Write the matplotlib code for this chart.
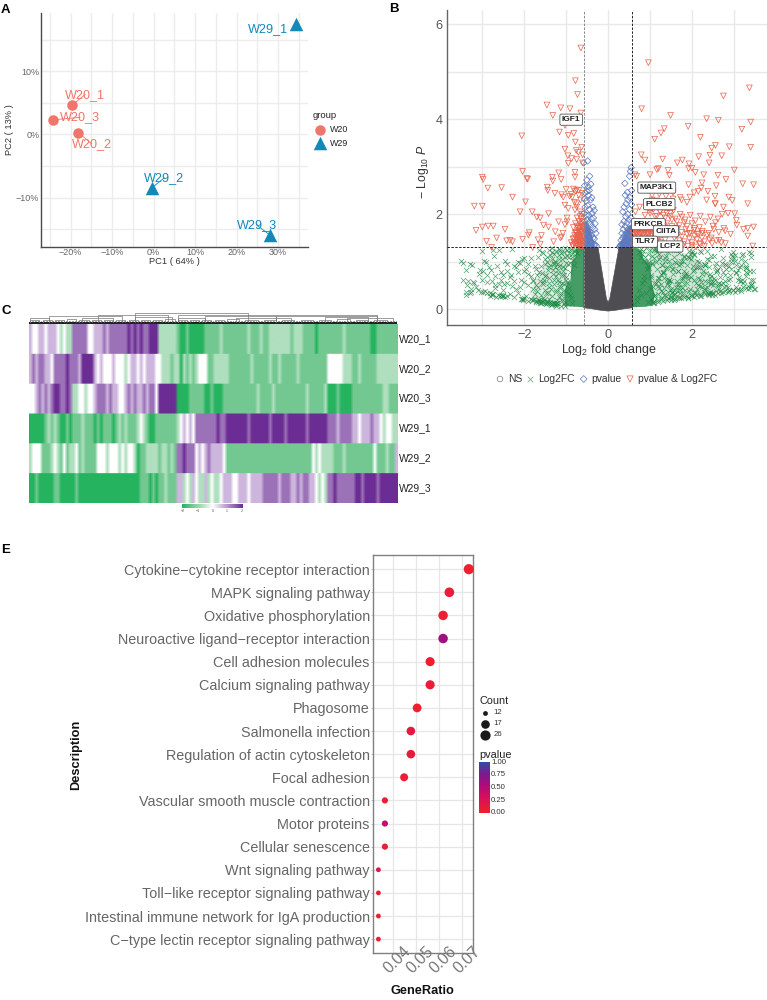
import numpy as np
import matplotlib
matplotlib.use('Agg')
import matplotlib.pyplot as plt
from matplotlib.colors import LinearSegmentedColormap
from matplotlib.patches import Polygon

plt.rcParams['font.family'] = ['Liberation Sans', 'DejaVu Sans']
plt.rcParams['mathtext.fontset'] = 'custom'
plt.rcParams['mathtext.rm'] = 'Liberation Sans'
plt.rcParams['mathtext.it'] = 'Liberation Sans:italic'

W, H = 767, 1000

# --- PCA ---
pca_names = ['W20_1', 'W20_2', 'W20_3', 'W29_1', 'W29_2', 'W29_3']
pca_x = [-19.7, -18.1, -24.3, 34.3, -0.5, 28.0]
pca_y = [4.6, 0.3, 2.3, 17.5, -8.5, -15.9]
pca_label_x = [-16.5, -14.9, -17.7, 27.5, 2.5, 24.8]
pca_label_y = [6.3, -1.5, 2.7, 16.6, -6.9, -14.3]

# --- volcano ---
red_x = [-0.65, 0.96, -0.78, -0.73, 3.37, 2.75, -1.46, -1.13, -0.91, -1.32, -0.65, 0.80, 1.49, 2.35, 2.63, 3.40,
         -1.03, 1.91, 1.34, 1.26, 3.19, 1.11, 2.20, -2.06, -1.16, -0.95, -0.82, -0.78, 2.56, 2.89, 3.40, -1.03,
         -0.76, -0.63, -0.71, 0.79, 0.88, 1.30, 1.77, 1.65, 2.16, 2.43, 2.71, 2.47, 2.41, 1.93, -0.96, -0.87,
         -0.75, -0.95, -0.61, -0.61, 3.01, 1.16, 1.20, 1.43, 1.92, 2.00, 2.08, 2.28, 2.62, 1.00, 0.68, 0.64,
         1.46, 2.81, 2.24, 3.21, 3.47, 2.58, 1.92, -3.00, -2.98, -2.87, -2.54, -2.04, -1.94, -1.92, -1.33, -1.32,
         -1.18, -1.12, -0.79, -0.79, -1.45, -1.44, -1.00, -0.83, -0.75, -1.27, -1.11, -2.28, -1.07,
         -3.19, -3.00, -2.10, -1.97, -1.81, -1.70, -1.62, -1.42, -1.03, -0.95, -0.79, -0.67, -0.75, -3.15, -3.00,
         -2.86, -2.74, -2.90, -2.66, -2.46, -2.42, -2.34, -2.28, -2.04, -1.88, -1.90, -1.54, -1.42, -1.18, -0.98,
         -1.67, -1.59, -1.62, -1.30, -1.26, -1.11, -1.80, -2.78,
         -0.60, -0.62, -0.64, -0.66, -0.68, -0.70, -0.72, -0.74, -0.60, -0.63, -0.66, -0.69, -0.72, -0.75, -0.78,
         -0.81, -0.85, -0.60, -0.62, -0.65, -0.68, -0.71, -0.74, -0.77, -0.80, -0.84, -0.88, -0.60, -0.64, -0.67,
         -0.70, -0.74, -0.78, -0.83, -0.62, -0.66, -0.70, -0.75, -0.80, -0.86, -0.92, -0.98, -1.03, -1.08, -1.14,
         -0.62, -0.70, -0.78, -0.88,
         0.60, 0.63, 0.66, 0.70, 0.74, 0.78, 0.82, 0.86, 0.90, 0.95, 1.00, 1.05, 1.10, 1.15, 1.20, 1.25,
         0.60, 0.64, 0.68, 0.72, 0.76, 0.80, 0.85, 0.90, 0.95, 1.00, 1.06, 1.12, 1.18, 1.24, 1.30, 1.36,
         0.62, 0.68, 0.74, 0.80, 0.86, 0.92, 0.98, 1.04, 1.10, 1.16, 1.22, 1.28, 1.34, 1.40, 1.46, 1.52,
         1.58, 1.64, 1.70, 1.76, 1.82, 1.88, 1.94, 2.00, 2.06, 2.12, 2.18, 2.24, 2.30, 2.36, 2.42, 2.48,
         0.65, 0.75, 0.88, 1.00, 1.12, 1.24, 1.36, 1.48, 1.60, 1.72, 1.84, 1.96, 2.08, 2.20, 2.32, 2.44, 2.56,
         1.55, 1.65, 1.75, 1.85, 1.95, 2.05, 2.15, 2.25, 1.60, 1.70, 1.80, 1.90, 2.00, 2.10, 2.20, 2.30,
         1.25, 1.35, 1.45, 1.55, 1.05, 1.15, 0.95, 0.85, 1.75, 1.95, 2.15, 2.35, 2.55, 2.75,
         3.23, 3.33, 3.47, 3.33, 3.33, 3.02, 3.06, 3.07, 2.86, 3.45, 2.79, 2.96, 2.88, 2.56, 2.72, 2.62,
         2.50, 2.65, 2.80, 2.92, 1.05, 1.22, 1.38, 1.55, 1.72, 1.88, 2.05, 2.22, 2.38, 2.55,
         -0.60, -0.62, -0.64, -0.66, -0.68, -0.70, -0.72, -0.60, -0.63, -0.66, -0.69, -0.72, -0.76, -0.80, -0.84,
         -0.61, -0.65, -0.69, -0.73, -0.77, -0.81, -0.61, -0.65, -0.70, -0.75, -0.60, -0.64, -0.68, -0.72, -0.62,
         0.60, 0.64, 0.68, 0.72, 0.76, 0.80, 0.84, 0.88, 0.92, 0.96, 1.00, 1.04, 1.08, 1.12, 1.16,
         1.40, 1.46, 1.52, 1.58, 1.64, 1.70, 1.76, 1.82, 1.88, 1.94, 2.00, 2.06, 2.12, 2.18, 2.24,
         1.00, 1.08, 1.16, 1.24, 1.32, 1.40, 1.48, 1.56, 2.40, 2.46, 2.52, 2.58, 2.64, 2.70, 2.76]
red_y = [5.50, 5.19, 4.81, 4.52, 4.66, 4.49, 4.30, 4.24, 4.22, 4.08, 4.13, 4.22, 4.08, 4.01, 3.98, 3.94,
         3.87, 3.85, 3.80, 3.71, 3.79, 3.58, 3.62, 3.65, 3.73, 3.66, 3.70, 3.52, 3.45, 3.42, 3.41, 3.37,
         3.34, 3.41, 3.30, 3.25, 3.14, 3.16, 3.14, 3.08, 3.21, 3.24, 3.23, 3.39, 3.08, 3.06, 3.23, 3.17,
         3.15, 3.07, 3.25, 3.08, 2.93, 2.94, 2.96, 2.92, 2.96, 2.97, 2.88, 2.83, 2.82, 2.83, 2.80, 2.83,
         2.82, 2.73, 2.66, 2.64, 2.62, 2.60, 2.62, 2.78, 2.73, 2.55, 2.56, 2.90, 2.75, 2.74, 2.78, 2.70,
         2.87, 2.73, 2.88, 2.78, 2.57, 2.50, 2.52, 2.53, 2.51, 2.44, 2.41, 2.36, 2.36,
         2.17, 2.17, 2.05, 2.26, 2.05, 1.94, 1.92, 2.01, 2.19, 2.12, 2.09, 2.05, 2.22, 1.66, 1.73,
         1.75, 1.75, 1.43, 1.50, 1.68, 1.44, 1.45, 1.42, 1.47, 1.61, 1.56, 1.77, 1.73, 1.84, 1.84,
         1.46, 1.55, 1.37, 1.42, 1.63, 1.52, 1.30, 1.30,
         1.33, 1.38, 1.43, 1.48, 1.34, 1.40, 1.45, 1.36, 1.53, 1.58, 1.63, 1.50, 1.55, 1.47, 1.60,
         1.40, 1.34, 1.68, 1.73, 1.78, 1.70, 1.65, 1.75, 1.62, 1.55, 1.48, 1.40, 1.85, 1.90, 1.95,
         1.85, 1.92, 1.80, 1.72, 2.00, 2.30, 2.40, 2.15, 2.25, 2.35, 2.38, 1.92, 1.78, 1.60, 1.50,
         2.44, 2.50, 2.48, 2.42,
         1.33, 1.38, 1.42, 1.35, 1.40, 1.45, 1.34, 1.38, 1.43, 1.36, 1.41, 1.34, 1.38, 1.44, 1.35, 1.40,
         1.50, 1.56, 1.62, 1.52, 1.58, 1.64, 1.50, 1.55, 1.60, 1.48, 1.53, 1.60, 1.47, 1.52, 1.58, 1.46,
         1.72, 1.78, 1.70, 1.82, 1.74, 1.68, 1.80, 1.72, 1.66, 1.78, 1.70, 1.64, 1.76, 1.68, 1.62, 1.74,
         1.50, 1.56, 1.44, 1.52, 1.42, 1.58, 1.48, 1.40, 1.54, 1.46, 1.38, 1.50, 1.42, 1.56, 1.46, 1.38,
         2.05, 2.15, 1.98, 2.08, 1.95, 2.05, 1.92, 2.02, 1.90, 2.00, 1.88, 1.98, 1.86, 1.96, 1.84, 1.94, 1.82,
         1.64, 1.70, 1.62, 1.68, 1.60, 1.66, 1.58, 1.64, 1.35, 1.33, 1.36, 1.32, 1.34, 1.31, 1.36, 1.33,
         2.20, 2.25, 2.18, 2.32, 2.40, 2.28, 2.50, 2.56, 2.30, 2.36, 2.48, 2.30, 2.22, 2.15,
         1.68, 1.70, 1.73, 1.54, 2.22, 2.01, 1.87, 1.77, 2.02, 1.33, 1.65, 2.29, 2.36, 2.22, 2.00, 1.90,
         1.75, 1.45, 1.38, 1.58, 2.30, 2.42, 2.38, 2.45, 2.35, 2.25, 2.45, 2.55, 2.48, 2.38,
         1.32, 1.35, 1.32, 1.36, 1.33, 1.36, 1.32, 1.42, 1.44, 1.42, 1.46, 1.42, 1.38, 1.36, 1.33,
         1.52, 1.54, 1.52, 1.55, 1.50, 1.48, 1.62, 1.64, 1.62, 1.60, 1.72, 1.74, 1.72, 1.70, 1.82,
         1.60, 1.62, 1.58, 1.62, 1.60, 1.60, 1.58, 1.62, 1.60, 1.58, 1.62, 1.58, 1.60, 1.55, 1.60,
         1.80, 1.66, 1.88, 1.70, 1.84, 1.76, 1.94, 1.82, 1.74, 1.60, 1.80, 1.70, 1.58, 1.72, 1.60,
         2.02, 2.10, 1.96, 2.05, 1.98, 2.02, 1.95, 2.08, 1.60, 1.50, 1.68, 1.44, 1.62, 1.40, 1.70]

blue_x = [-0.49, -0.58, -0.44, -0.51, -0.56, -0.47, -0.41, -0.55, -0.50, -0.45, -0.39, -0.57, -0.52, -0.47, -0.42,
          -0.36, -0.33, -0.55, -0.49, -0.44, -0.38, -0.57, -0.52, -0.46, -0.40, -0.35, -0.31, -0.56, -0.50, -0.45,
          -0.41, -0.37, -0.32, -0.29, -0.56, -0.53, -0.48, -0.44, -0.40, -0.36, -0.33, -0.56, -0.50, -0.46,
          -0.42, -0.38, -0.34, -0.31, -0.28, -0.57, -0.54,
          0.55, 0.53, 0.51, 0.40, 0.56, 0.46, 0.41, 0.52, 0.47, 0.43, 0.38, 0.35, 0.56, 0.51, 0.47, 0.42,
          0.38, 0.33, 0.55, 0.50, 0.45, 0.41, 0.36, 0.33, 0.56, 0.52, 0.47, 0.43, 0.39, 0.35, 0.31, 0.55,
          0.50, 0.46, 0.41, 0.37, 0.33, 0.30, 0.57, 0.53, 0.48, 0.44, 0.40, 0.36, 0.32, 0.29, 0.27]
blue_y = [3.12, 3.08, 2.80, 2.72, 2.60, 2.58, 2.63, 2.45, 2.48, 2.50, 2.35, 2.32, 2.28, 2.40, 2.30,
          2.15, 2.08, 2.15, 2.18, 2.10, 2.02, 2.02, 1.98, 1.98, 1.90, 1.92, 1.80, 1.85, 1.88, 1.83,
          1.78, 1.72, 1.68, 1.60, 1.70, 1.62, 1.65, 1.62, 1.55, 1.50, 1.48, 1.50, 1.45, 1.52,
          1.42, 1.40, 1.36, 1.36, 1.33, 1.35, 1.32,
          2.98, 2.90, 2.80, 2.65, 2.50, 2.46, 2.40, 2.35, 2.30, 2.22, 2.15, 2.05, 2.20, 2.10, 2.00, 1.95,
          1.85, 1.78, 1.92, 1.88, 1.82, 1.75, 1.68, 1.60, 1.72, 1.65, 1.68, 1.60, 1.55, 1.50, 1.45, 1.50,
          1.52, 1.45, 1.42, 1.40, 1.38, 1.35, 1.36, 1.40, 1.34, 1.35, 1.32, 1.33, 1.32, 1.33, 1.31]
# solid core of the pvalue-only group, bottom of the two arms
blue_core_left_x = [-0.58, -0.58, -0.52, -0.44, -0.36, -0.31]
blue_core_left_y = [1.30, 1.80, 1.85, 1.72, 1.50, 1.30]
blue_core_right_x = [0.58, 0.58, 0.52, 0.42, 0.33, 0.27]
blue_core_right_y = [1.30, 1.72, 1.78, 1.66, 1.48, 1.30]

green_x = [-3.50, -3.45, -3.40, -3.30, -3.25, -3.35, -3.20, -3.05, -3.00, -2.95, -3.10, -2.85, -2.80, -2.75, -2.70,
           -2.90, -3.00, -2.60, -2.55, -2.50, -2.45, -2.40, -2.35, -2.30, -2.25, -2.20, -2.15, -2.10, -2.05, -2.00,
           -1.95, -1.90, -1.85, -2.70, -2.60, -2.50, -2.40, -2.30, -2.20, -2.10, -2.00, -1.90, -1.80, -2.55, -2.35,
           -2.15, -1.95, -2.25, -2.05, -1.85, -1.75, -1.70, -1.65, -1.60, -1.55, -1.50, -1.45, -1.40, -1.35, -1.30,
           -1.25, -1.80, -1.72, -1.64, -1.56, -1.48, -1.40, -1.32, -1.24, -1.16, -1.70, -1.60, -1.50, -1.40, -1.30,
           -1.20, -1.10, -1.65, -1.55, -1.45, -1.35, -1.25, -1.15, -1.05, -1.62, -1.52, -1.42, -1.32, -1.22, -1.12,
           -1.50, -1.38, -1.26, -1.14, -1.02, -1.44, -1.33, -1.21, -1.09, -1.36, -1.24, -1.12, -1.00, -1.28, -1.18,
           -1.08, -0.98, -1.20, -1.10, -1.00, -0.94, -1.15, -1.05, -0.95, -0.90, -1.10, -1.02, -0.92, -0.86, -1.06,
           -0.98, -0.88, -0.82, -1.02, -0.94, -0.85, -0.78, -3.40, -3.30, -2.82, -2.76, -2.68, -2.02, -1.92, -1.82,
           -1.72, -1.60, -1.48, -1.36, -1.24, -3.38, -3.28, -2.62, -2.50, -1.68, -1.58, -1.46, -1.34, -1.22, -1.12,
           0.62, 0.68, 0.74, 0.80, 0.86, 0.92, 0.98, 1.04, 1.10, 1.16, 1.22, 1.28, 1.34, 1.40, 1.46, 1.52,
           1.58, 1.64, 1.70, 1.76, 1.82, 1.88, 1.94, 2.00, 2.06, 2.12, 2.18, 2.24, 2.30, 2.36, 2.42, 2.48,
           0.70, 0.78, 0.86, 0.94, 1.02, 1.10, 1.18, 1.26, 1.34, 1.42, 1.50, 1.58, 1.66, 1.74, 1.82, 1.90,
           1.98, 2.06, 2.14, 2.22, 2.30, 2.38, 2.46, 2.54, 2.62, 2.70, 2.78, 2.86, 2.94, 3.02, 3.10, 3.18,
           3.26, 3.34, 3.42, 3.50, 0.90, 1.00, 1.10, 1.20, 1.30, 1.40, 1.50, 1.60, 1.70, 1.80, 1.90, 2.00,
           2.10, 2.20, 2.30, 2.40, 2.50, 2.60, 2.70, 2.80, 2.90, 3.00, 3.10, 3.20, 3.30, 3.40, 1.05, 1.15,
           1.25, 1.35, 1.45, 1.55, 1.65, 1.75, 1.85, 1.95, 2.05, 2.15, 2.25, 2.35, 2.45, 2.55, 2.65, 2.75,
           2.85, 2.95, 3.05, 3.15, 3.25, 3.35, 3.45, 1.12, 1.22, 1.32, 1.42, 1.52, 1.62, 1.72, 1.82, 1.92,
           2.02, 2.12, 2.22, 2.32, 2.42, 2.52, 2.62, 2.72, 2.82, 2.92, 3.02, 3.12, 3.22, 3.32, 3.42, 1.08,
           1.18, 1.28, 1.38, 1.48, 1.58, 1.68, 1.78, 1.88, 1.98, 2.08, 2.18, 2.28, 2.38, 2.48, 2.58, 2.68,
           2.78, 2.88, 2.98, 3.08, 3.18, 3.28, 3.38, 3.48, 1.02, 1.14, 1.26, 1.38, 1.50, 1.62, 1.74, 1.86,
           1.98, 2.10, 2.22, 2.34, 2.46, 2.58, 2.70, 2.82, 2.94, 3.06, 3.18, 3.30, 3.42, 1.06, 1.20, 1.34,
           1.48, 1.62, 1.76, 1.90, 2.04, 2.18, 2.32, 2.46, 2.60, 2.74, 2.88, 3.02, 3.16, 3.30, 3.44,
           -3.02, -2.98, -2.94, -2.88, -2.82, -2.78, -2.74, -2.58, -2.54, -2.50, -2.46, -2.42, -2.08, -2.04, -2.00,
           -1.80, -1.76, -1.72, -1.68, -1.62, -1.58, -1.54, -1.50, -1.46, -1.42, -1.38, -1.34, -1.30, -1.26, -1.22,
           -1.75, -1.68, -1.62, -1.55, -1.48, -1.42, -1.36, -1.30, -1.24, -1.18, -1.12, -1.06, -1.00, -1.72, -1.58,
           -1.50, -1.44, -1.38, -1.32, -1.26, -1.20, -1.14, -1.08, -1.02, -0.96, -1.46, -1.34, -1.22, -1.10, -0.98,
           -1.30, -1.18, -1.06, -0.94, -0.88, -0.84, -0.80, -1.16, -1.04, -0.92, -0.86, -0.82, -0.78, -0.74, -0.70,
           1.02, 1.06, 1.10, 1.14, 1.18, 1.22, 1.26, 1.30, 1.34, 1.38, 1.42, 1.46, 1.50, 1.54, 1.58,
           1.04, 1.10, 1.16, 1.22, 1.28, 1.34, 1.40, 1.46, 1.52, 1.58, 1.64, 1.70, 1.76, 1.82, 1.88,
           0.88, 0.92, 0.96, 1.00, 0.84, 0.90, 0.94, 0.98, 0.78, 0.82, 0.86, 0.74, 0.78, 1.12, 1.20,
           1.60, 1.66, 1.72, 1.78, 1.84, 1.90, 1.96, 2.02, 2.08, 2.14, 2.20, 2.26, 2.32, 2.38, 2.44,
           1.24, 1.36, 1.44, 1.56, 1.68, 1.80, 1.92, 2.04, 2.16, 2.28, 2.40, 2.52, 2.64, 2.76, 2.88,
           1.10, 1.20, 1.30, 1.40, 1.50, 1.60, 1.70, 1.80, 1.90, 2.00, 2.10, 2.20, 2.30, 2.40, 2.50,
           2.56, 2.62, 2.68, 2.74, 2.80, 2.86, 2.92, 2.98, 3.04, 3.10, 3.16, 3.22, 3.28, 3.34, 3.40,
           2.50, 2.58, 2.66, 2.74, 2.82, 2.90, 2.98, 3.06, 3.14, 3.22, 3.30, 3.38, 3.46, 2.44, 2.36,
           -1.84, -1.78, -1.68, -1.58, -1.52, -1.40, -1.92, -2.00, -2.08, -2.16, -2.24, -2.32, -2.40, -2.48, -2.56,
           -3.45, -3.36, -3.26, -3.16, -3.08, -2.98, -2.88, -2.78, -2.70, -2.64, -3.22, -2.92, -2.72, -1.16, -0.92]
green_y = [1.02, 0.98, 0.82, 0.95, 0.92, 0.60, 0.55, 0.82, 1.22, 1.02, 0.40, 0.88, 0.83, 1.24, 0.70,
           0.58, 0.62, 1.24, 0.78, 0.72, 1.02, 0.95, 0.67, 1.26, 0.60, 0.88, 1.00, 0.98, 1.05, 1.08,
           0.85, 0.75, 0.70, 0.45, 0.52, 0.40, 0.56, 0.48, 0.42, 0.46, 0.58, 0.50, 0.42, 0.30, 0.31,
           0.34, 0.28, 0.26, 0.22, 0.22, 0.90, 0.72, 1.25, 0.90, 1.18, 0.95, 1.10, 0.88, 1.20, 0.96,
           1.22, 0.60, 0.50, 0.78, 0.58, 0.72, 0.65, 0.82, 0.70, 0.90, 0.38, 0.30, 0.40, 0.46, 0.52,
           0.62, 0.56, 0.20, 0.24, 0.18, 0.28, 0.36, 0.44, 0.72, 0.12, 0.15, 0.22, 0.14, 0.20, 0.30,
           1.05, 1.15, 1.02, 1.25, 1.10, 0.34, 1.28, 0.12, 0.18, 0.12, 0.14, 1.18, 0.98, 0.98, 1.06,
           0.88, 1.24, 0.82, 0.72, 0.62, 1.10, 0.48, 0.40, 0.34, 0.98, 0.22, 0.16, 0.78, 1.16, 0.10,
           0.58, 0.24, 0.92, 0.06, 0.44, 0.12, 1.22, 0.30, 0.33, 0.28, 0.29, 0.25, 0.22, 0.18, 0.20,
           0.16, 0.13, 0.10, 0.08, 0.07, 0.37, 0.36, 0.30, 0.27, 0.20, 0.17, 0.14, 0.11, 0.09, 0.06,
           0.10, 0.25, 0.40, 0.55, 0.70, 0.85, 1.00, 1.12, 1.25, 1.20, 1.06, 0.92, 0.78, 0.64, 0.50, 0.36,
           0.24, 0.38, 0.52, 0.66, 0.80, 0.94, 1.08, 1.22, 1.15, 1.02, 0.88, 0.74, 0.60, 0.46, 0.34, 0.30,
           0.18, 0.30, 0.62, 0.16, 0.72, 0.18, 0.60, 0.22, 0.44, 0.24, 0.60, 0.20, 0.80, 0.24, 0.54, 0.24,
           0.68, 0.26, 0.50, 0.28, 0.92, 0.32, 0.70, 0.30, 0.48, 0.34, 0.60, 0.36, 1.05, 0.36, 0.62, 0.38,
           1.02, 0.42, 0.62, 0.42, 0.35, 0.45, 0.55, 0.66, 0.78, 0.88, 0.42, 1.00, 0.46, 1.10, 0.70, 1.18,
           0.56, 1.22, 0.44, 1.04, 0.58, 0.82, 0.52, 0.96, 0.72, 1.08, 0.82, 1.15, 0.90, 0.50, 0.95, 1.25,
           0.52, 1.08, 0.62, 0.84, 0.54, 1.02, 0.76, 1.16, 0.62, 0.88, 0.46, 1.22, 0.58, 0.90, 0.42, 0.78,
           0.62, 1.12, 0.46, 0.88, 0.60, 1.20, 0.80, 0.30, 0.44, 0.36, 0.58, 0.34, 0.46, 0.40, 0.68, 0.38,
           0.80, 0.42, 0.58, 0.92, 0.66, 1.12, 0.52, 0.98, 0.48, 0.84, 1.15, 0.68, 0.56, 0.76, 0.50, 0.16,
           0.20, 0.24, 0.28, 0.26, 0.30, 0.26, 0.32, 0.28, 0.30, 0.34, 0.32, 0.36, 0.34, 0.34, 0.38, 0.38,
           0.38, 0.40, 0.40, 0.40, 0.42, 0.44, 0.44, 0.42, 0.68, 1.00, 0.74, 1.12, 0.92, 1.25, 0.96, 0.72,
           1.06, 0.88, 1.20, 0.76, 1.12, 0.98, 1.26, 0.84, 1.16, 0.76, 1.05, 0.86, 1.10, 0.14, 0.48, 0.66,
           0.40, 0.98, 0.62, 1.10, 0.82, 0.64, 0.94, 0.52, 0.80, 0.56, 0.90, 1.02, 0.60, 0.78, 0.54,
           0.37, 0.36, 0.38, 0.34, 0.33, 0.31, 0.32, 0.28, 0.27, 0.29, 0.26, 0.28, 0.22, 0.20, 0.24,
           0.20, 0.22, 0.18, 0.16, 0.17, 0.15, 0.19, 0.13, 0.16, 0.12, 0.15, 0.11, 0.14, 0.10, 0.13,
           0.32, 0.46, 0.60, 0.52, 0.34, 0.56, 0.42, 0.62, 0.40, 0.58, 0.34, 0.52, 0.68, 0.84, 0.76,
           0.70, 0.82, 0.92, 0.74, 0.88, 0.76, 0.94, 0.80, 0.86, 0.96, 1.00, 1.06, 0.96, 1.06, 1.12,
           1.16, 1.14, 1.20, 1.18, 1.26, 1.04, 1.14, 1.26, 1.28, 1.24, 1.10, 1.22, 1.26, 1.18, 1.28,
           0.22, 0.46, 0.28, 0.56, 0.32, 0.66, 0.38, 0.76, 0.30, 0.86, 0.36, 0.62, 0.26, 0.74, 0.40,
           0.98, 1.08, 0.84, 1.16, 0.94, 1.24, 0.54, 1.02, 0.84, 1.10, 0.60, 0.92, 0.44, 0.72, 0.56,
           1.10, 1.02, 1.16, 1.24, 1.22, 1.28, 0.90, 0.86, 1.26, 1.16, 1.02, 1.20, 1.10, 1.28, 1.26,
           0.32, 0.80, 0.34, 1.02, 0.40, 0.64, 0.42, 0.90, 0.36, 0.66, 0.48, 0.80, 0.40, 0.58, 0.36,
           1.10, 1.02, 1.20, 1.24, 1.18, 1.12, 1.22, 1.16, 1.00, 0.96, 0.88, 0.66, 0.56, 0.46, 0.38,
           0.12, 0.15, 0.17, 0.19, 0.20, 0.22, 0.23, 0.25, 0.24, 0.27, 0.29, 0.27, 0.31, 0.30, 0.33,
           0.62, 0.34, 0.88, 0.36, 0.72, 0.46, 1.00, 0.40, 0.78, 0.42, 0.94, 0.46, 0.70, 0.48, 1.18,
           0.50, 0.78, 0.68, 1.08, 0.92, 0.64, 1.20, 0.92, 0.60, 1.16, 0.86, 0.80, 0.62, 0.74, 1.06,
           1.08, 0.62, 1.10, 1.20, 0.62, 1.24, 0.95, 0.80, 0.62, 0.78, 0.90, 0.72, 0.80, 0.52, 0.62,
           0.62, 0.50, 0.42, 0.46, 0.74, 0.80, 0.72, 0.60, 0.50, 0.90, 0.58, 1.00, 1.12, 0.26, 0.30]
# solid green columns just outside the fold-change cutoffs
green_core_left_x = [-0.58, -0.58, -0.75, -1.02, -1.05, -0.98, -0.90, -0.87, -0.78, -0.76]
green_core_left_y = [1.30, 0.04, 0.05, 0.06, 0.35, 0.55, 0.60, 1.00, 1.10, 1.28]
green_core_right_x = [0.58, 0.58, 0.90, 1.05, 1.12, 1.05, 1.00, 0.85, 0.80, 0.72]
green_core_right_y = [1.30, 0.04, 0.05, 0.08, 0.30, 0.50, 0.95, 1.05, 1.22, 1.28]
# thinner haze of overlapping crosses further out
green_haze_left_x = [-1.00, -1.70, -1.90, -1.60, -1.30, -1.00]
green_haze_left_y = [0.06, 0.15, 0.35, 0.80, 1.25, 1.28]
green_haze_right_x = [1.00, 1.70, 2.40, 2.70, 2.40, 2.20, 1.90, 1.50, 1.00]
green_haze_right_y = [0.10, 0.18, 0.30, 0.40, 0.75, 1.00, 1.15, 1.28, 1.28]

# non-significant genes fill the V between the cutoffs
ns_x = [-0.58, -0.58, -0.40, -0.20, 0.0, 0.20, 0.40, 0.58, 0.58, 0.26, 0.04, 0.0, -0.04, -0.24]
ns_y = [1.30, 0.03, 0.01, -0.02, -0.04, -0.02, 0.01, 0.03, 1.30, 1.30, 0.22, 0.14, 0.22, 1.30]

gene_names = ['IGF1', 'MAP3K1', 'PLCB2', 'PRKCB', 'CIITA', 'TLR7', 'LCP2']
gene_x = [-0.88, 1.16, 1.22, 0.96, 1.38, 0.88, 1.48]
gene_y = [3.99, 2.56, 2.21, 1.79, 1.64, 1.42, 1.32]

# --- heatmap, z-score levels from -3 to 3 ---
heat_labels = ['W20_1', 'W20_2', 'W20_3', 'W29_1', 'W29_2', 'W29_3']
heat_w20_1 = [1, 0, 0, 1, 1, 0, 1, 1, 1, 0, -1, 0, -1, -1, 2, 2, 2, 2, 2, 0,
              0, 1, 1, 1, 2, 1, 2, 2, 2, 2, 2, 2, 3, 2, 3, 2, 3, 2, 2, 3,
              3, 3, -1, -1, -1, -1, -1, -1, -2, -3, -3, -2, -3, -3, -3, -3, -3, -2, -2, -2,
              -2, -2, -1, -2, -2, -2, -2, -2, -2, -2, -2, -1, -2, -2, -2, -1, -2, -2, -1, -1,
              -1, -1, -1, -1, -1, -2, -1, -1, -1, -2, -2, -2, -2, -3, -2, -2, -2, -2, -2, -2,
              -2, -2, -1, -2, -2, -2, -2, -2, -2, -2, -2, -3, -3, -2, -2, -2, -2, -2, -2, -2]
heat_w20_2 = [1, 2, 1, 2, 2, 1, 1, 0, 2, 2, 2, 2, 3, 2, 2, 2, 1, 3, 3, 3,
              3, 1, 0, 1, 0, 0, 0, 1, 0, 0, 0, -1, 0, 1, 1, 0, 1, 0, 1, 1,
              1, 0, 0, -1, -1, -1, -2, -1, -1, -3, -1, -2, -1, -2, -1, 0, 0, 0, -2, -2,
              -1, -1, -1, -1, -1, -2, -2, -2, -2, -2, -2, -2, -1, -2, -2, -2, -2, -2, -1, -2,
              -2, -1, -2, -2, -2, -2, -2, -1, -2, -2, -2, -2, -2, -2, -2, -2, -2, 0, 0, 0,
              0, 0, -1, -1, -1, -2, -2, -1, -2, -2, -2, -2, -2, -1, -1, -1, -1, -1, -1, -1]
heat_w20_3 = [0, 0, 1, 2, 1, 2, 1, 2, 3, 3, 2, 2, 3, 2, -1, -1, 0, 0, -1, 0,
              0, 1, 2, 2, 2, 1, 2, 1, 1, 0, 0, 1, 2, 1, 2, 1, 1, 2, 1, 2,
              2, 0, 3, 3, 3, 3, 3, 3, -3, -3, -3, -3, -2, -2, -2, -2, -2, -3, -3, -2,
              -3, -3, -3, -2, -2, -2, -2, -2, -2, -2, -2, -2, -2, -2, -1, -2, -2, -2, -2, -1,
              -2, -2, -2, -2, -2, -2, -2, -2, -2, -2, -1, -2, -2, -2, -2, -2, -1, -3, -3, -3,
              -2, -3, -3, -3, -3, -2, -2, -2, -2, -2, -2, -2, -2, -2, -2, -1, -1, -2, -2, -2]
heat_w29_1 = [-3, -3, -3, -3, -3, -2, -1, -2, -1, -2, -3, -3, -2, -3, -2, -2, -2, -1, -2, -2,
              -2, -3, -2, -3, -2, -2, -2, -3, -2, -1, -2, -1, -2, -2, -2, -1, 0, -1, -2, -3,
              -3, -2, -2, -2, -2, -2, -2, -2, -1, 0, 1, 0, 1, 0, 2, 2, 2, 2, 2, 2,
              2, 3, 2, 2, 3, 3, 3, 3, 3, 3, 3, 2, 3, 3, 3, 3, 3, 3, 2, 3,
              3, 3, 3, 2, 3, 3, 3, 3, 3, 3, 2, 3, 3, 3, 3, 3, 3, 2, 2, 2,
              1, 2, 2, 2, 2, 1, 1, 0, 1, 1, 1, 2, 1, 1, 0, -1, 0, 0, -1, -1]
heat_w29_2 = [-1, 0, 0, 0, -2, -2, -2, -1, 0, -1, -2, 0, -2, -1, -1, 0, -2, -1, -2, -2,
              -2, -2, 0, 0, 0, -1, 0, 0, 0, -1, 0, -1, 0, 0, -1, -3, -2, -2, -1, -1,
              -1, -1, -2, -1, -1, -2, -1, -2, 2, 2, 3, 2, 2, 2, 0, 1, 0, 1, 2, 1,
              1, 1, 1, 0, -2, -2, -2, -2, -2, -2, -2, -2, -2, -2, -2, -2, -2, -2, -2, -2,
              -2, -2, -2, -2, -2, -2, -2, -2, -2, -2, -2, -2, 0, -1, 0, -1, -1, -1, -1, -2,
              -2, -2, -1, -2, -2, -2, -2, -2, -2, -2, -2, -2, 0, -2, -2, -2, -1, -2, -2, 1]
heat_w29_3 = [-3, -3, -2, -3, -3, -3, -3, -3, -2, -2, -3, -3, -3, -3, -3, -2, -3, -3, -3, -3,
              -3, -3, -3, -3, -3, -3, -3, -3, -3, -3, -3, -3, -3, -3, -3, -3, -2, -2, -2, -3,
              -2, -3, -2, -2, -1, -2, -2, -2, 1, 1, -1, 0, -1, 1, 0, -1, -1, 1, -1, 0,
              -1, -1, 0, 1, 1, 1, 0, 0, 1, 1, 1, 0, 1, 1, 1, 1, 2, 2, 2, 2,
              2, 1, 2, 2, 2, 1, 1, 2, 1, 2, 2, 1, 1, 0, -1, 0, -1, 2, 2, 3,
              2, 2, 2, 2, 2, 2, 3, 3, 2, 3, 3, 3, 3, 2, 3, 3, 3, 3, 3, 3]

# merge brackets above the heatmap: left col, right col, height
dendro_left = [34, 22, 48, 6, 57, 80, 0, 17, 34, 48, 67, 96, 103,
               0, 4, 8, 12, 16, 20, 24, 28, 32, 36, 40, 44, 48, 52, 56, 60, 64, 70, 76, 82, 88, 94, 100, 106, 112]
dendro_right = [71, 45, 113, 30, 80, 113, 6, 27, 46, 57, 85, 110, 118,
                3, 7, 11, 15, 19, 23, 27, 31, 35, 39, 43, 47, 51, 55, 59, 63, 68, 74, 80, 86, 92, 98, 104, 110, 116]
dendro_height = [9.2, 7.7, 7.7, 6.6, 6.5, 6.9, 5.4, 5.1, 5.6, 5.3, 5.4, 5.6, 4.9,
                 3.4, 3.7, 3.2, 3.9, 3.4, 3.5, 3.3, 3.8, 3.4, 3.6, 3.2, 3.9, 3.4, 3.7, 3.3, 3.5, 3.9, 3.4, 3.6, 3.2, 3.7, 3.4, 3.9, 3.4, 3.5]

# --- enrichment dot plot ---
pathways = ['Cytokine\u2212cytokine receptor interaction', 'MAPK signaling pathway', 'Oxidative phosphorylation',
            'Neuroactive ligand\u2212receptor interaction', 'Cell adhesion molecules', 'Calcium signaling pathway',
            'Phagosome', 'Salmonella infection', 'Regulation of actin cytoskeleton', 'Focal adhesion',
            'Vascular smooth muscle contraction', 'Motor proteins', 'Cellular senescence', 'Wnt signaling pathway',
            'Toll\u2212like receptor signaling pathway', 'Intestinal immune network for IgA production',
            'C\u2212type lectin receptor signaling pathway']
gene_ratio = [0.0728, 0.0644, 0.0617, 0.0617, 0.0561, 0.0561, 0.0505, 0.0478, 0.0478, 0.0449,
              0.0366, 0.0366, 0.0366, 0.0338, 0.0338, 0.0338, 0.0338]
gene_count = [26, 23, 22, 22, 20, 20, 18, 17, 17, 16, 13, 13, 13, 12, 12, 12, 12]
pvalues = [0.02, 0.07, 0.02, 0.60, 0.03, 0.08, 0.02, 0.14, 0.10, 0.05, 0.04, 0.42, 0.06, 0.20, 0.03, 0.02, 0.03]
count_legend = [12, 17, 26]
count_sizes = [12, 13, 17, 26]
diameters_px = [4.8, 6.2, 8.6, 10.2]
ratio_ticks = [0.04, 0.05, 0.06, 0.07]


def panel(left, top, right, bottom):
    # axes placed by pixel box
    return fig.add_axes([left / W, 1 - bottom / H, (right - left) / W, (bottom - top) / H])


def px_text(x, y, s, **kw):
    kw.setdefault('ha', 'left')
    kw.setdefault('va', 'center')
    fig.text(x / W, 1 - y / H, s, **kw)


def marker_area(d_px):
    return (d_px * 72 / 100) ** 2


def add_region(ax, xs, ys, **kw):
    ax.add_patch(Polygon(np.column_stack([xs, ys]), **kw))


fig = plt.figure(figsize=(W / 100, H / 100), dpi=100)

for lab, x, y in [('A', 1, 10), ('B', 389, 9), ('C', 1, 311), ('E', 1, 550)]:
    px_text(x, y, lab, fontsize=9.5, fontweight='bold', color='black')

# --- A: PCA ---
salmon, teal = '#f0756a', '#1289b8'
ax = panel(40.7, 13, 308, 247)
ax.set_xlim(-27.2, 37.2)
ax.set_ylim(-17.8, 19.2)
ax.set_xticks([-20, -10, 0, 10, 20, 30])
ax.set_yticks([-10, 0, 10])
ax.set_xticks([-25, -15, -5, 5, 15, 25, 35], minor=True)
ax.set_yticks([-15, -5, 5, 15], minor=True)
ax.grid(which='both', color='#ececec', lw=1.0)
ax.set_axisbelow(True)
ax.tick_params(which='minor', length=0)
ax.tick_params(which='major', length=0, pad=1, labelsize=6.5, labelcolor='#666666')
ax.set_xticklabels([f'\u2212{abs(v)}%' if v < 0 else f'{v}%' for v in [-20, -10, 0, 10, 20, 30]])
ax.set_yticklabels(['\u221210%', '0%', '10%'])
for s in ['top', 'right']:
    ax.spines[s].set_visible(False)
for s in ['left', 'bottom']:
    ax.spines[s].set_color('#4a4a4a')
    ax.spines[s].set_linewidth(1.0)
for i, name in enumerate(pca_names):
    c = salmon if name.startswith('W20') else teal
    if name != 'W29_1':
        ax.plot([pca_x[i], pca_label_x[i]], [pca_y[i], pca_label_y[i]], color=c, lw=0.6, zorder=2)
    ax.scatter(pca_x[i], pca_y[i], s=marker_area(10.5 if c == salmon else 13.5),
               marker='o' if c == salmon else '^', color=c, zorder=3, linewidths=0, clip_on=False)
    ax.text(pca_label_x[i], pca_label_y[i], name, color=c, fontsize=9.1, ha='center', va='center', zorder=4)
px_text(174.5, 261.5, 'PC1 ( 64% )', ha='center', fontsize=6.7, color='#333333')
px_text(10, 130, 'PC2 ( 13% )', ha='center', rotation=90, fontsize=6.7, color='#333333')
px_text(313, 116, 'group', fontsize=6.8, color='#222222')
px_text(330, 130, 'W20', fontsize=6.4, color='#222222')
px_text(330, 143, 'W29', fontsize=6.4, color='#222222')
leg = fig.add_axes([0, 0, 1, 1], facecolor='none')
leg.set_xlim(0, W)
leg.set_ylim(H, 0)
leg.axis('off')
leg.scatter([319.5], [130], s=marker_area(10.5), color=salmon, linewidths=0)
leg.scatter([319.5], [143], s=marker_area(13.5), color=teal, marker='^', linewidths=0)

# --- B: volcano ---
ax = panel(446.7, 10, 767, 325.3)
ax.set_xlim(-3.85, 3.79)
ax.set_ylim(-0.34, 6.3)
ax.set_xticks([-2, 0, 2])
ax.set_yticks([0, 2, 4, 6])
ax.set_xticks([-3, -1, 1, 3], minor=True)
ax.set_yticks([1, 3, 5], minor=True)
ax.grid(which='both', color='#e8e8e8', lw=1.0)
ax.set_axisbelow(True)
ax.tick_params(which='minor', length=0)
ax.tick_params(which='major', length=0, pad=3, labelsize=9.2, labelcolor='#555555')
ax.set_xticklabels(['\u22122', '0', '2'])
for s in ['top', 'right']:
    ax.spines[s].set_visible(False)
for s in ['left', 'bottom']:
    ax.spines[s].set_color('#666666')
    ax.spines[s].set_linewidth(1.0)
ns_color, fc_color, p_color, both_color = '#4d4d52', '#17853f', '#5b78c0', '#e8614a'
add_region(ax, green_haze_left_x, green_haze_left_y, fc=fc_color, ec='none', alpha=0.14, zorder=2)
add_region(ax, green_haze_right_x, green_haze_right_y, fc=fc_color, ec='none', alpha=0.18, zorder=2)
add_region(ax, green_core_left_x, green_core_left_y, fc=fc_color, ec='none', alpha=0.8, zorder=2)
add_region(ax, green_core_right_x, green_core_right_y, fc=fc_color, ec='none', alpha=0.8, zorder=2)
ax.scatter(green_x, green_y, s=14, marker='x', color=fc_color, linewidths=0.5, alpha=0.75, zorder=3)
add_region(ax, ns_x, ns_y, fc=ns_color, ec=ns_color, lw=0.5, zorder=4)
add_region(ax, blue_core_left_x, blue_core_left_y, fc='#3f62b4', ec='none', alpha=0.8, zorder=3)
add_region(ax, blue_core_right_x, blue_core_right_y, fc='#3f62b4', ec='none', alpha=0.8, zorder=3)
ax.scatter(blue_x, blue_y, s=11, marker='D', facecolors='none', edgecolors=p_color, linewidths=0.5, zorder=3)
ax.scatter(red_x, red_y, s=17, marker='v', facecolors='none', edgecolors=both_color, linewidths=0.5, zorder=5)
ax.axvline(-0.585, color='#888888', lw=0.7, ls=(0, (2.5, 1.5)), zorder=6)
ax.axvline(0.58, color='#222222', lw=0.7, ls=(0, (2.5, 1.5)), zorder=6)
ax.axhline(1.3, color='#222222', lw=0.7, ls=(0, (2.5, 1.5)), zorder=6)
for name, gx, gy in zip(gene_names, gene_x, gene_y):
    ax.text(gx, gy, name, fontsize=6.0, fontweight='bold', color='#222222', ha='center', va='center', zorder=7,
            bbox=dict(boxstyle='round,pad=0.25,rounding_size=0.2', fc='white', ec='#555555', lw=0.6))
px_text(609, 350, r'Log$_2$ fold change', ha='center', fontsize=9, color='#333333')
px_text(423, 172, r'$-$ Log$_{10}$ $\mathit{P}$', ha='center', rotation=90, fontsize=8.8, color='#333333')
leg.scatter([500], [379], s=16, facecolors='none', edgecolors='#777777', linewidths=0.5)
leg.scatter([530], [379], s=16, marker='x', color='#5aa778', linewidths=0.5)
leg.scatter([583.7], [379], s=12, marker='D', facecolors='none', edgecolors=p_color, linewidths=0.5)
leg.scatter([630], [379], s=20, marker='v', facecolors='none', edgecolors=both_color, linewidths=0.5)
for x, s in [(508, 'NS'), (538, 'Log2FC'), (591.7, 'pvalue'), (638, 'pvalue & Log2FC')]:
    px_text(x, 379, s, fontsize=7.4, color='#333333')

# --- C: heatmap ---
heat_cmap = LinearSegmentedColormap.from_list(
    'heat', ['#25b35f', '#74c992', '#afdfbe', '#ffffff', '#cdb6dd', '#9c72b8', '#6b2c94'])
ax = panel(28.7, 324, 397.3, 502.7)
heat_rows = np.array([heat_w20_1, heat_w20_2, heat_w20_3, heat_w29_1, heat_w29_2, heat_w29_3])
# repeat rows so the smoothing only blends neighbouring columns
ax.imshow(np.repeat(heat_rows, 30, axis=0), cmap=heat_cmap, vmin=-3, vmax=3, aspect='auto',
          interpolation='bilinear')
ax.axis('off')
for i, lab in enumerate(heat_labels):
    px_text(398.5, 339 + i * 29.78, lab, fontsize=7.4, color='#222222')

den = panel(28.7, 310, 397.3, 324)
den.set_xlim(-0.5, 119.5)
den.set_ylim(0, 12)
den.axis('off')
den.vlines(np.arange(0, 120, 0.5), 0, 2.2, color='#222222', lw=0.6)
den.axhspan(0, 1.6, color='#222222', lw=0)
for l, r, h in zip(dendro_left, dendro_right, dendro_height):
    den.plot([l, l, r, r], [2, h, h, 2], color='#777777', lw=0.5)

cbar = panel(182, 504, 243, 508)
cbar.imshow(np.linspace(-3, 3, 60)[None, :], cmap=heat_cmap, aspect='auto', vmin=-3, vmax=3)
cbar.axis('off')
for x, s in zip([183, 198, 213, 227, 242], ['\u22122', '\u22121', '0', '1', '2']):
    px_text(x, 511, s, fontsize=2.6, color='#555555', ha='center')

# --- E: enrichment dot plot ---
p_cmap = LinearSegmentedColormap.from_list('pval', ['#f0202e', '#dd1252', '#b80a78', '#7c1a8c', '#2f4fa8'])
ax = panel(373.3, 555.3, 473, 953)
ypos = np.arange(len(pathways))[::-1]
ax.set_xlim(0.0316, 0.0746)
ax.set_ylim(-0.6, 16.6)
ax.set_xticks(ratio_ticks)
ax.set_xticklabels([])
ax.set_yticks(ypos)
ax.set_yticklabels(pathways)
ax.grid(color='#e6e6e6', lw=0.9)
ax.set_axisbelow(True)
ax.tick_params(axis='x', length=0)
ax.tick_params(axis='y', length=1.5, width=0.5, color='#aaaaaa', labelsize=10.4, labelcolor='#666666', pad=1)
for s in ax.spines.values():
    s.set_color('#808080')
    s.set_linewidth(1.0)
d = np.interp(gene_count, count_sizes, diameters_px)
ax.scatter(gene_ratio, ypos, s=marker_area(d), c=pvalues, cmap=p_cmap, vmin=0, vmax=1, linewidths=0, zorder=3, clip_on=False)
for t in ratio_ticks:
    ax.annotate(f'{t:.2f}', xy=(t, 0), xycoords=('data', 'axes fraction'), xytext=(3.2, -5.0),
                textcoords='offset points', ha='center', va='center', rotation=45, fontsize=11.4,
                color='#777777', annotation_clip=False)
px_text(422.7, 991, 'GeneRatio', ha='center', fontsize=9.2, fontweight='bold', color='#111111')
px_text(75.7, 755, 'Description', ha='center', rotation=90, fontsize=9.2, fontweight='bold', color='#111111')

px_text(479, 701, 'Count', fontsize=7.8, color='#222222')
for yy, c in zip([713, 723.7, 735], count_legend):
    leg.scatter([485.3], [yy], s=marker_area(np.interp(c, count_sizes, diameters_px)), color='#1a1a1a', linewidths=0)
    px_text(493.3, yy, str(c), fontsize=5.6, color='#333333')
px_text(479, 755, 'pvalue', fontsize=7.8, color='#222222')
cb = panel(479, 761.7, 489.3, 813.3)
cb.imshow(np.linspace(1, 0, 100)[:, None], cmap=p_cmap, aspect='auto', vmin=0, vmax=1)
cb.axis('off')
for yy, s in zip([762, 774.7, 787.5, 800.3, 813], ['1.00', '0.75', '0.50', '0.25', '0.00']):
    px_text(491, yy, s, fontsize=5.6, color='#333333')

fig.savefig('out.png', dpi=100)
plt.close(fig)
